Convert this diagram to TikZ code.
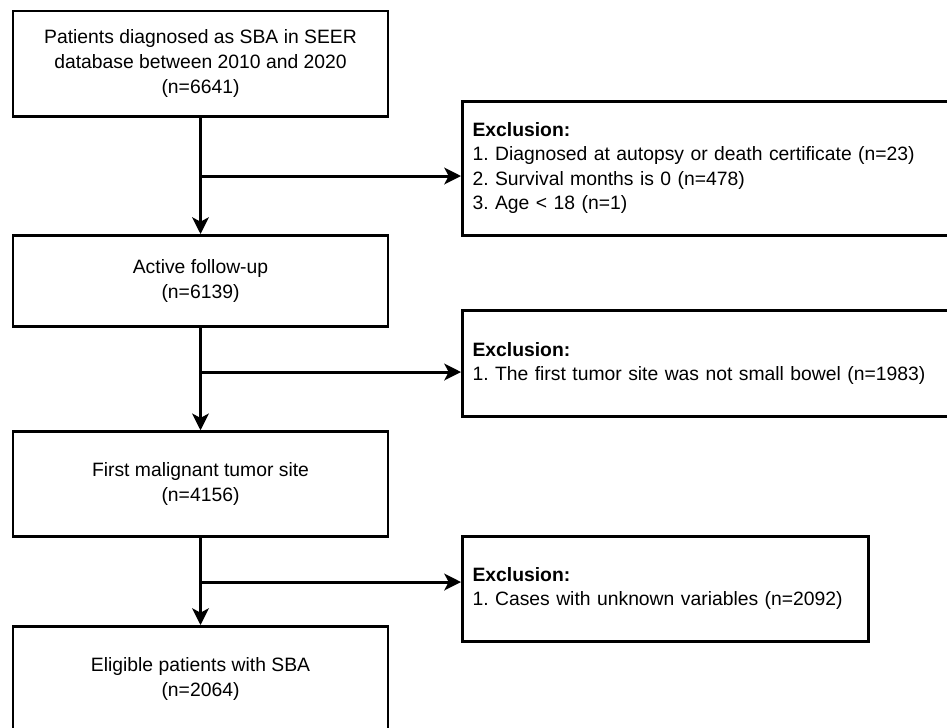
\documentclass[tikz,border=0pt]{standalone}
\usepackage{fontspec}
\setmainfont{Liberation Sans}
\usetikzlibrary{arrows.meta}
\frenchspacing

\begin{document}
\begin{tikzpicture}[line width=1.7pt,>={Stealth[length=9.5pt,width=9.5pt,inset=2.5pt]},
every node/.style={font=\fontsize{11}{14}\selectfont},
mainbox/.style={shape=rectangle, draw, align=center, minimum width=7.5cm},
exclbox/.style={shape=rectangle, draw, align=left, inner xsep=0.2cm}]
%[figure is cut at its right and bottom side]
\useasboundingbox (0,0) rectangle (18.94,-14.54);
\clip (0,0) rectangle (18.94,-14.54);

\path (4.01,-1.27) node (S1) [mainbox, minimum height=2.1cm] {Patients diagnosed as SBA in SEER\\database between 2010 and 2020\\(n=6641)};
\path (4.01,-5.62) node (S2) [mainbox, minimum height=1.82cm] {Active follow-up\\(n=6139)};
\path (4.01,-9.68) node (S3) [mainbox, minimum height=2.09cm] {First malignant tumor site\\(n=4156)};
\path (4.01,-13.58) node (S4) [mainbox, minimum height=2.1cm] {Eligible patients with SBA\\(n=2064)};

\path (14.275,-3.36) node (E1) [exclbox, text width=9.65cm, minimum height=2.68cm] {\textbf{Exclusion:}\\1. Diagnosed at autopsy or death certificate (n=23)\\2. Survival months is 0 (n=478)\\3. Age < 18 (n=1)};
\path (14.275,-7.27) node (E2) [exclbox, text width=9.65cm, minimum height=2.11cm] {\textbf{Exclusion:}\\1. The first tumor site was not small bowel (n=1983)};
\path (13.31,-11.77) node (E3) [exclbox, text width=7.72cm, minimum height=2.1cm] {\textbf{Exclusion:}\\1. Cases with unknown variables (n=2092)};

\coordinate (J1) at (4.01,-3.52);
\coordinate (J2) at (4.01,-7.44);
\coordinate (J3) at (4.01,-11.64);

\draw [->] (S1) to (S2);
\draw [->] (S2) to (S3);
\draw [->] (S3) to (S4);
\draw [->] (J1) to (J1 -| E1.west);
\draw [->] (J2) to (J2 -| E2.west);
\draw [->] (J3) to (J3 -| E3.west);

\end{tikzpicture}
\end{document}
